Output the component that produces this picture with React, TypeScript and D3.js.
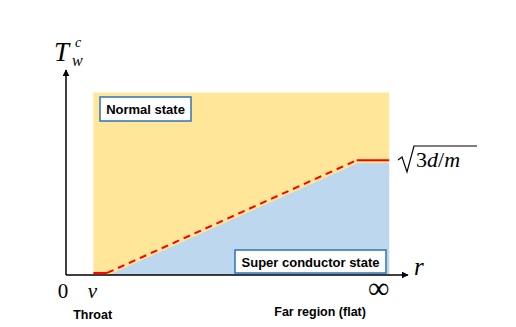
import React from 'react';
import * as d3 from 'd3';

// r positions (0..100 along the axis) and critical temperature values (0..10)
const normalR = [8, 94.5];
const normalTc = [0, 8.9];
const superR = [12.5, 85.3, 94.5, 94.5];
const superTc = [0, 5.45, 5.45, 0];
const boundaryR = [8, 12, 85, 94.5];
const boundaryTc = [0.1, 0.1, 5.6, 5.6];
const tickLabels = ['0', 'v', '∞'];
const tickR = [-0.9, 7.7, 91.4];
const bottomLabels = ['Throat', 'Far region (flat)'];
const bottomR = [7.8, 74.3];
const stateLabels = ['Normal state', 'Super conductor state'];

const W = 516;
const H = 327;

const App = () => {
    const x = d3.scaleLinear().domain([0, 100]).range([66, 408]);
    const y = d3.scaleLinear().domain([0, 10]).range([275, 70]);

    const pts = boundaryR.map((r, i) => [r, boundaryTc[i]] as [number, number]);
    const line = d3.line<[number, number]>().x(d => x(d[0])).y(d => y(d[1]));

    const superPts = superR.map((r, i) => [r, superTc[i]] as [number, number]);

    const serif = '"Liberation Serif", "DejaVu Serif", serif';
    const sans = '"Liberation Sans", Arial, sans-serif';

    return (
        <svg width={W} height={H} style={{ position: 'absolute', left: 0, top: 0, background: '#fff' }}>
            <defs>
                <marker id="arr" viewBox="0 0 10 10" refX="9" refY="5" markerWidth="7" markerHeight="7" markerUnits="userSpaceOnUse" orient="auto">
                    <path d="M0,0 L10,5 L0,10 z" fill="#000" />
                </marker>
            </defs>

            {/* normal state region */}
            <rect x={x(normalR[0])} y={y(normalTc[1])}
                width={x(normalR[1]) - x(normalR[0])} height={y(normalTc[0]) - y(normalTc[1])}
                fill="#FFE699" />

            {/* super conductor region */}
            <path d={line(superPts) + 'Z'} fill="#BDD7EE" />

            {/* phase boundary */}
            <path d={line(pts.slice(0, 2)) ?? ''} stroke="#FF0000" strokeWidth={2} fill="none" />
            <path d={line(pts.slice(1, 3)) ?? ''} stroke="#FF0000" strokeWidth={2} fill="none" strokeDasharray="7 5" />
            <path d={line(pts.slice(2, 4)) ?? ''} stroke="#FF0000" strokeWidth={2} fill="none" />

            {/* axes */}
            <line x1={x(0)} y1={y(0)} x2={x(0)} y2={y(10)} stroke="#000" strokeWidth={1.5} markerEnd="url(#arr)" />
            <line x1={x(0)} y1={y(0)} x2={x(100)} y2={y(0)} stroke="#000" strokeWidth={1.5} markerEnd="url(#arr)" />

            {/* state boxes */}
            <rect x={100} y={97} width={91} height={24} fill="#fff" stroke="#2E75B6" strokeWidth={1.5} />
            <text x={145.5} y={114} textAnchor="middle" fontFamily={sans} fontWeight="bold" fontSize={13}>{stateLabels[0]}</text>
            <rect x={235} y={250} width={151} height={23} fill="#fff" stroke="#2E75B6" strokeWidth={1.5} />
            <text x={310.5} y={266.5} textAnchor="middle" fontFamily={sans} fontWeight="bold" fontSize={13}>{stateLabels[1]}</text>

            {/* axis labels */}
            <text x={54} y={61} fontFamily={serif} fontStyle="italic" fontSize={27}>T</text>
            <text x={72} y={66} fontFamily={serif} fontStyle="italic" fontSize={16}>w</text>
            <text x={75} y={47} fontFamily={serif} fontStyle="italic" fontSize={14}>c</text>
            <text x={414} y={275} fontFamily={serif} fontStyle="italic" fontSize={25}>r</text>

            {tickLabels.map((t, i) => (
                <text key={t} x={x(tickR[i])} y={298} textAnchor="middle" fontFamily={serif}
                    fontStyle={t === 'v' ? 'italic' : 'normal'} fontSize={t === '∞' ? 30 : 21}>{t}</text>
            ))}
            {bottomLabels.map((t, i) => (
                <text key={t} x={x(bottomR[i])} y={i === 0 ? 319 : 316} textAnchor="middle"
                    fontFamily={sans} fontWeight="bold" fontSize={12.5}>{t}</text>
            ))}

            {/* sqrt(3d/m) */}
            <path d="M398,160 L402,157 L407,172 L414,146 L477,146" stroke="#000" strokeWidth={1.2} fill="none" />
            <text x={416} y={167} fontFamily={serif} fontSize={22}>3<tspan fontStyle="italic">d</tspan>/<tspan fontStyle="italic">m</tspan></text>
        </svg>
    );
};

export default App;
